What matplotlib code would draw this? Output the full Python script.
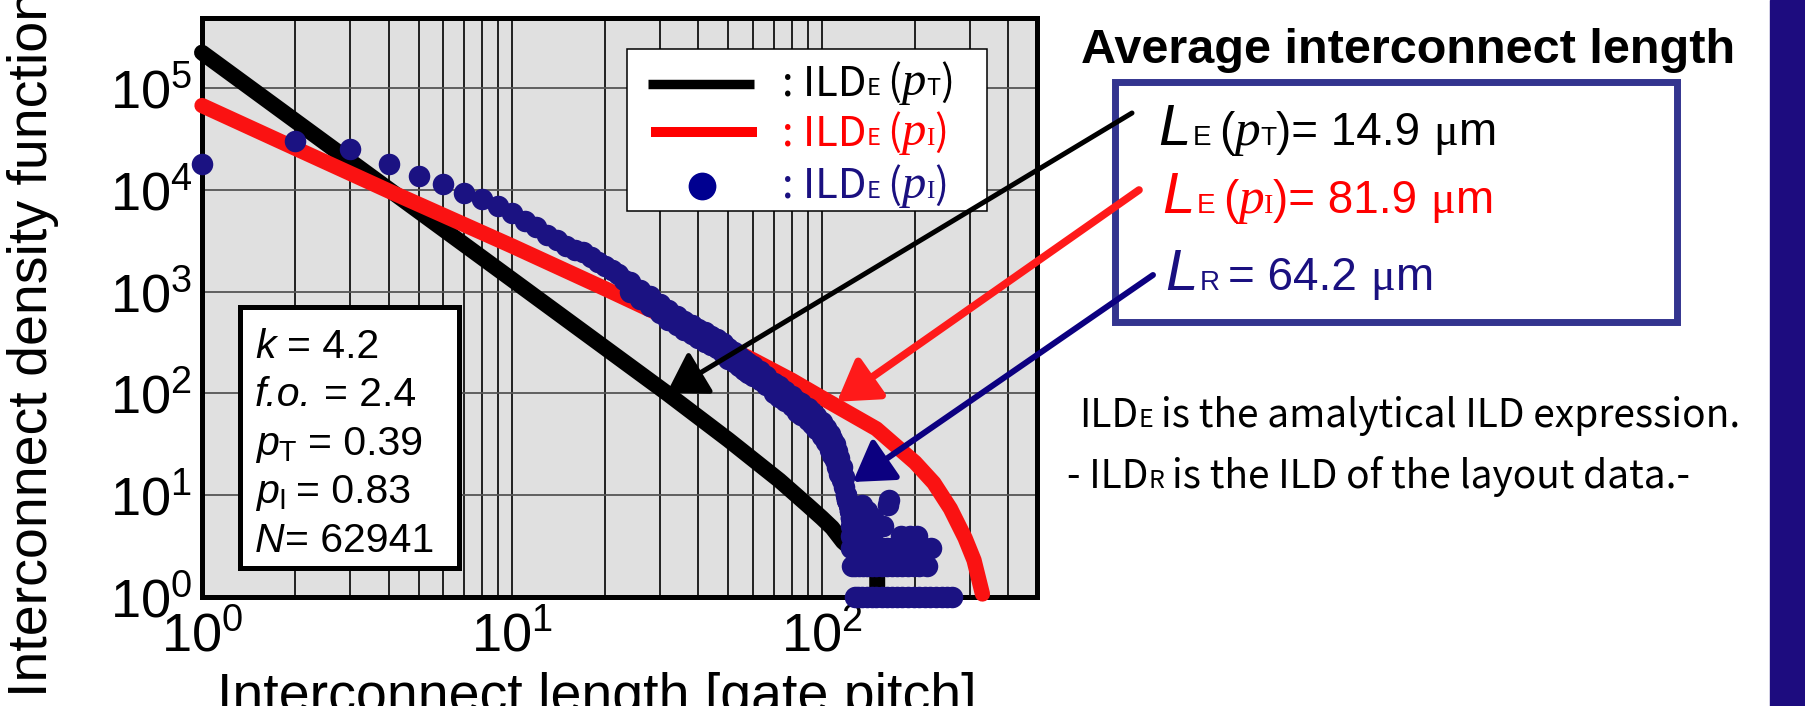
import matplotlib
matplotlib.use("Agg")
import matplotlib.pyplot as plt
from matplotlib.patches import Rectangle, ConnectionPatch
from matplotlib.lines import Line2D
from matplotlib.ticker import LogLocator, NullFormatter

plt.rcParams['font.family'] = ['Liberation Sans', 'DejaVu Sans']
plt.rcParams['mathtext.fontset'] = 'custom'
plt.rcParams['mathtext.rm'] = 'Liberation Sans'
plt.rcParams['mathtext.it'] = 'Liberation Sans:italic'
plt.rcParams['mathtext.bf'] = 'Liberation Sans:bold'

W, H = 1806, 706
CJK = 'Noto Sans CJK JP'
NAVY = '#1b1282'
RED = '#fa1212'

# analytical ILD, p_T
len_t = [1, 10, 31.6, 50, 73, 90, 100, 108, 117, 124, 138, 138, 151, 151]
ild_t = [224000, 1320, 101, 35, 14, 8, 6, 4.8, 3.5, 3, 3, 2, 2, 1]

# analytical ILD, p_I
len_i = [1, 2, 4, 10, 20, 30, 40, 60, 80, 100, 150, 200, 230, 260, 290, 310, 330]
ild_i = [67600, 25700, 9800, 2820, 1070, 600, 390, 214, 135, 91, 45, 21, 13.2, 7.4, 3.8, 2.3, 1.07]

# layout data (extracted wires), short lengths
len_r = [1, 2, 3, 4, 5, 6, 7, 8, 9, 10, 11, 12, 13, 14, 15, 16, 17, 18, 19, 20,
         21, 22, 23]
cnt_r = [18000, 30000, 25000, 18000, 13800, 11500, 9400, 8200, 6900, 6000,
         5000, 4300, 3600, 3200, 2800, 2600, 2450, 2200, 1950, 1800,
         1650, 1500, 1300]

# layout data, mid lengths: upper and lower edge of the scatter
len_m = [24, 26, 28, 30, 32, 34, 36, 38, 40, 42, 44, 46, 48, 50, 52, 54, 56, 58,
         60, 63, 66, 70, 73, 76, 80, 83, 86, 90, 93, 96, 100, 103, 106, 108, 110,
         112, 114, 116, 118, 120, 121, 122, 123, 124]
cnt_hi = [1250, 1050, 900, 760, 660, 580, 520, 470, 430, 400, 370, 345, 310,
          280, 255, 235, 215, 200, 185, 165, 150, 128, 118, 105, 95, 85, 80,
          72, 66, 60, 52, 46, 40, 36, 32, 27, 23, 19, 15, 10, 9, 8, 7, 6]
cnt_lo = [1000, 850, 720, 620, 530, 470, 420, 380, 350, 320, 300, 280, 250,
          220, 205, 185, 170, 160, 150, 135, 120, 100, 92, 84, 75, 66, 62,
          55, 50, 45, 38, 33, 28, 25, 22, 19, 16, 14, 12, 10, 9, 8, 7, 6]

# long wires with only a few counts each
len_tail = [165, 122, 135, 163, 125, 140, 127, 137, 146,
            124, 130, 140, 148, 158,
            124, 128, 133, 138, 145, 180, 192, 203,
            124, 127, 131, 135, 139, 144, 150, 156, 162, 168, 175, 183, 191,
            198, 206, 214, 226,
            125, 128, 132, 136, 140, 145, 150, 156, 162, 168, 175, 182, 190,
            198, 206, 218,
            128, 131, 135, 140, 145, 150, 156, 162, 168, 175, 182, 190, 198,
            206, 215, 224, 234, 244, 254, 264]
cnt_tail = [9, 8, 8, 8, 7, 7, 6, 6, 6,
            5, 5, 5, 5, 5,
            4, 4, 4, 4, 4, 4, 4, 4,
            3, 3, 3, 3, 3, 3, 3, 3, 3, 3, 3, 3, 3, 3, 3, 3, 3,
            2, 2, 2, 2, 2, 2, 2, 2, 2, 2, 2, 2, 2, 2, 2, 2,
            1, 1, 1, 1, 1, 1, 1, 1, 1, 1, 1, 1, 1, 1, 1, 1, 1, 1, 1, 1]

# arrow tips (length, density)
tip_t = (31.6, 101)
tip_i = (112, 83)
tip_r = (126, 13.5)


def fx(px):
    return px / W


def fy(py):
    return 1 - py / H


fig = plt.figure(figsize=(W / 100, H / 100), dpi=100)
ax = fig.add_axes([fx(202), fy(597), (1037 - 202) / W, (597 - 18) / H])
ax.set_facecolor('#e0e0e0')
ax.set_xscale('log')
ax.set_yscale('log')
ax.set_xlim(1, 495)
ax.set_ylim(1, 4.9e5)

ax.xaxis.set_major_locator(LogLocator(base=10, numticks=10))
ax.xaxis.set_minor_locator(LogLocator(base=10, subs=range(2, 10), numticks=20))
ax.xaxis.set_minor_formatter(NullFormatter())
ax.yaxis.set_major_locator(LogLocator(base=10, numticks=10))
ax.yaxis.set_minor_locator(LogLocator(base=10, subs=range(2, 10), numticks=20))
ax.yaxis.set_minor_formatter(NullFormatter())
ax.tick_params(which='both', length=0, labelsize=39)
ax.tick_params(axis='x', pad=10)
ax.tick_params(axis='y', pad=7)

ax.set_axisbelow(True)
ax.grid(True, axis='x', which='both', color='#111111', lw=1.3)
ax.grid(True, axis='y', which='major', color='#555555', lw=1.3)
for sp in ax.spines.values():
    sp.set_linewidth(3.6)

dot = dict(ls='none', marker='o', color=NAVY, ms=15.5, mec='none', clip_on=False, zorder=5)
ax.plot(len_t, ild_t, color='black', lw=11.5, solid_capstyle='round',
        solid_joinstyle='round', clip_on=False, zorder=3)
ax.plot(len_i, ild_i, color=RED, lw=11, solid_capstyle='round',
        solid_joinstyle='round', clip_on=False, zorder=4)
ax.plot(len_r, cnt_r, **dot)
ax.plot(len_m, cnt_hi, **dot)
ax.plot(len_m, cnt_lo, **dot)
ax.plot(len_tail, cnt_tail, **dot)

# axis titles
fig.text(fx(33), fy(343), 'Interconnect density function', rotation=90,
         fontsize=40, ha='center', va='center')
fig.text(fx(597), fy(672), 'Interconnect length [gate pitch]',
         fontsize=40, ha='center', va='top')

renderer = fig.canvas.get_renderer()


def rich(x, y, parts, color):
    # lay text pieces along one baseline; a number is a gap in pixels
    for p in parts:
        if not isinstance(p, tuple):
            x += p
            continue
        s, size, kw = p
        t = fig.text(fx(x), fy(y), s, fontsize=size, color=color,
                     va='baseline', ha='left', zorder=4, **kw)
        x += t.get_window_extent(renderer).width


cjk = dict(family=[CJK, 'DejaVu Sans'])
ser_it = dict(family='Liberation Serif', style='italic')
ser = dict(family='Liberation Serif')
sans = dict(family='Liberation Sans')
sans_it = dict(family='Liberation Sans', style='italic')

# parameter box
fig.add_artist(Rectangle((fx(240.5), fy(567.5)), (459.5 - 240.5) / W, (567.5 - 306.5) / H,
                         transform=fig.transFigure, fc='white', ec='black', lw=3.6, zorder=1))
PS = 29.5
rich(255, 358, [('k', PS, sans_it), 12, ('= 4.2', PS, sans)], 'black')
rich(255, 406, [('f.o.', PS, sans_it), 12, ('= 2.4', PS, sans)], 'black')
rich(255, 455, [(r'$p_{\rm T}$', PS, {}), 10, ('= 0.39', PS, sans)], 'black')
rich(255, 503, [(r'$p_{\rm I}$', PS, {}), 10, ('= 0.83', PS, sans)], 'black')
rich(255, 552, [('N', PS, sans_it), ('= 62941', PS, sans)], 'black')

# legend
fig.add_artist(Rectangle((fx(627.5), fy(211.5)), (987.5 - 627.5) / W, (211.5 - 49.5) / H,
                         transform=fig.transFigure, fc='white', ec='black', lw=1.1, zorder=1))
fig.add_artist(Line2D([fx(648), fx(754)], [fy(84), fy(84)], transform=fig.transFigure,
                      color='black', lw=6.8, solid_capstyle='butt', zorder=2))
fig.add_artist(Line2D([fx(651), fx(757)], [fy(132), fy(132)], transform=fig.transFigure,
                      color='#ff0000', lw=7.2, solid_capstyle='butt', zorder=2))
fig.add_artist(Line2D([fx(702)], [fy(186)], transform=fig.transFigure, marker='o',
                      ms=20, color='#000090', mec='none', zorder=2))
for y, sub, col in [(95, ('T', 17, cjk), 'black'), (145, ('I', 18, ser), '#ff0000'),
                    (198, ('I', 18, ser), '#1a1080')]:
    rich(782, y, [(': ILD', 30, cjk), ('E', 17, cjk), 7, ('(', 30, cjk),
                  ('p', 35, ser_it), sub, (')', 30, cjk)], col)

# average length panel
fig.text(fx(1081), fy(63), 'Average interconnect length', fontsize=35,
         weight='bold', va='baseline', ha='left')
fig.add_artist(Rectangle((fx(1115.5), fy(321.5)), (1677.5 - 1115.5) / W, (321.5 - 81.5) / H,
                         transform=fig.transFigure, fill=False, ec='#33348f', lw=5, zorder=1))
rich(1158, 145, [('L', 42, sans_it), 2, ('E', 20, sans), 8, ('(', 33, sans), ('p', 37, ser_it),
                 ('T', 19, sans), (')= 14.9', 33, sans), 13, ('\u03bc', 33, ser), ('m', 33, sans)],
     'black')
rich(1162, 213, [('L', 42, sans_it), 2, ('E', 20, sans), 8, ('(', 33, sans), ('p', 37, ser_it),
                 ('I', 20, ser), (')= 81.9', 33, sans), 13, ('\u03bc', 33, ser), ('m', 33, sans)],
     '#ff0000')
rich(1165, 290, [('L', 42, sans_it), 2, ('R', 20, sans), 9, ('= 64.2', 33, sans), 13,
                 ('\u03bc', 33, ser), ('m', 33, sans)], '#1a1080')

# notes
rich(1079, 427, [('ILD', 28, cjk), ('E', 18, cjk), 8,
                 ('is the amalytical ILD expression.', 28, cjk)], 'black')
rich(1067, 488, [('- ILD', 28, cjk), ('R', 18, cjk), 8,
                 ('is the ILD of the layout data.-', 28, cjk)], 'black')

# arrows from the panel to the curves
for start, tip, col, lw in [((1132, 113), tip_t, 'black', 3.6),
                            ((1139, 190), tip_i, '#ff1a1a', 5.5),
                            ((1153, 275), tip_r, '#0c0080', 4.3)]:
    con = ConnectionPatch(xyA=(fx(start[0]), fy(start[1])), coordsA='figure fraction',
                          xyB=tip, coordsB='data', axesB=ax,
                          arrowstyle='-|>,head_length=0.8,head_width=0.5',
                          mutation_scale=30, color=col, lw=lw, shrinkA=0, shrinkB=0,
                          capstyle='round', zorder=6)
    fig.add_artist(con)

# side bar
fig.add_artist(Rectangle((fx(1770), 0), (W - 1770) / W, 1, transform=fig.transFigure,
                         color='#1d0c7f', zorder=1))

fig.savefig('out.png', dpi=100)
